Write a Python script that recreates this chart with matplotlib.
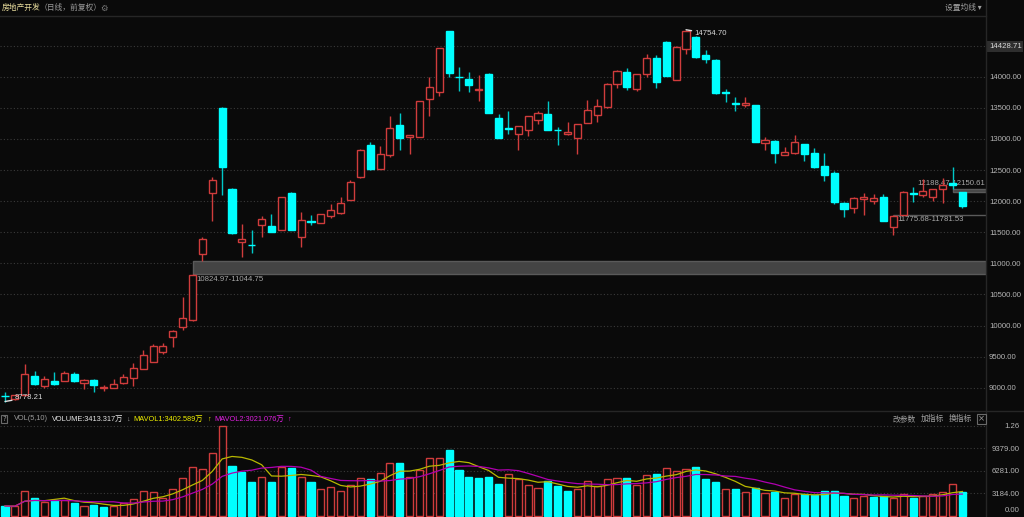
import numpy as np
import pandas as pd
import matplotlib
matplotlib.use('Agg')
import matplotlib.pyplot as plt
from matplotlib.patches import Rectangle
from matplotlib.lines import Line2D

plt.rcParams['font.family'] = ['Noto Sans CJK SC', 'DejaVu Sans']

title = '房地产开发'
subtitle = '（日线，前复权）'

opens = [8870, 8815, 8880, 9188, 9027, 9108, 9113, 9215, 9081, 9124,
         8995, 8995, 9071, 9161, 9301, 9418, 9579, 9810, 9971, 10088,
         11145, 12125, 13496, 12199, 11350, 11300, 11611, 11595, 11540, 12135,
         11423, 11680, 11643, 11765, 11804, 12018, 12383, 12898, 12521, 12746,
         13228, 13026, 13035, 13641, 13749, 14730, 14000, 13963, 13781, 14043,
         13331, 13170, 13083, 13138, 13308, 13395, 13150, 13074, 13019, 13260,
         13384, 13508, 13878, 14075, 13807, 14039, 14296, 14553, 13946, 14445,
         14643, 14344, 14274, 13755, 13580, 13545, 13545, 12929, 12966, 12741,
         12778, 12913, 12768, 12564, 12447, 11969, 11894, 12039, 12002, 12071,
         11579, 11781.53, 12125, 12093, 12071, 12189, 12290, 12150.61]
highs = [8924, 8890, 9376, 9263, 9188, 9258, 9268, 9252, 9140, 9145,
         9050, 9135, 9220, 9392, 9606, 9703, 9713, 9935, 10453, 10824.97,
         11420, 12383, 13510, 12210, 11632, 11535, 11760, 11797, 12065, 12140,
         11825, 11772, 11795, 11948, 12071, 12339, 12830, 12950, 12886, 13363,
         13412, 13065, 13615, 14000, 14465, 14740, 14156, 14070, 14021, 14060,
         13400, 13448, 13210, 13370, 13448, 13609, 13196, 13272, 13240, 13625,
         13641, 13895, 14106, 14145, 14050, 14365, 14350, 14570, 14490, 14754.70,
         14650, 14429, 14280, 13810, 13674, 13678, 13550, 13030, 12975, 12875,
         13063, 12920, 12859, 12773, 12480, 11980, 12065, 12135, 12120, 12120,
         11775.68, 12157, 12222, 12360, 12195, 12371, 12553, 12150.61]
lows = [8778.21, 8800, 8870, 9050, 8995, 9050, 9105, 9097, 8974, 8926,
        8950, 8990, 9065, 9027, 9295, 9410, 9542, 9649, 9930, 10080,
        11044.75, 11685, 12097, 11470, 11096, 11160, 11418, 11500, 11535, 11530,
        11267, 11611, 11640, 11733, 11800, 12010, 12375, 12505, 12515, 12704,
        12826, 12752, 13030, 13373, 13690, 14000, 13770, 13750, 13614, 13410,
        13010, 13079, 12826, 13050, 13240, 13140, 12907, 13070, 12762, 13255,
        13272, 13500, 13823, 13786, 13770, 13990, 13813, 14005, 13940, 14360,
        14300, 14215, 13725, 13600, 13453, 13517, 12945, 12822, 12617, 12735,
        12757, 12640, 12535, 12323, 11960, 11750, 11813, 11777, 11950, 11680,
        11450, 11781.53, 11981, 12071, 11995, 11975, 12188.47, 11890]
closes = [8860, 8880, 9220, 9055, 9135, 9055, 9241, 9113, 9124, 9039,
          9005, 9055, 9167, 9311, 9521, 9665, 9670, 9906, 10116, 10810,
          11386, 12334, 12553, 11482, 11385, 11290, 11707, 11508, 12061, 11540,
          11691, 11670, 11787, 11852, 11964, 12302, 12822, 12511, 12752, 13170,
          13019, 13057, 13605, 13830, 14457, 14055, 13990, 13862, 13807, 13416,
          13019, 13160, 13202, 13363, 13416, 13148, 13140, 13116, 13234, 13464,
          13524, 13883, 14092, 13839, 14043, 14296, 13920, 14016, 14482, 14740,
          14322, 14285, 13733, 13745, 13560, 13575, 12955, 12982, 12773, 12789,
          12955, 12762, 12543, 12415, 11981, 11878, 12055, 12066, 12050, 11685,
          11760, 12141, 12115, 12157, 12189, 12255, 12265, 11925]
# volume in 万
volumes = [1432, 1391, 3456, 2534, 2024, 2300, 2258, 1804, 1432, 1611,
           1336, 1391, 1804, 2437, 3456, 3360, 2492, 3814, 5246, 6761,
           6486, 8689, 12407, 6940, 6155, 4696, 5384, 4696, 6761, 6665,
           5384, 4696, 3732, 4048, 3498, 4324, 5288, 5109, 5935, 7395,
           7395, 5384, 6348, 8042, 8000, 9102, 6389, 5467, 5288, 5384,
           4420, 5797, 5150, 4282, 3869, 4833, 4186, 3498, 3732, 4833,
           4145, 5191, 5288, 5288, 4282, 5742, 5838, 6623, 6252, 6527,
           6761, 5109, 4696, 3814, 3732, 3319, 3869, 3222, 3319, 2492,
           3043, 3043, 2947, 3498, 3498, 2850, 2492, 2850, 2671, 2850,
           2492, 3043, 2575, 2809, 3126, 3360, 4450, 3413.317]

price_ticks = [9000, 9500, 10000, 10500, 11000, 11500, 12000, 12500, 13000, 13500, 14000, 14500]
price_labels = ['9000.00', '9500.00', '10000.00', '10500.00', '11000.00', '11500.00',
                '12000.00', '12500.00', '13000.00', '13500.00', '14000.00', '14428.71']
vol_ticks = [3184, 6281, 9379, 12476]
vol_labels = ['3184.00', '6281.00', '9379.00', '1.26']

vol_header = [('VOL(5,10)', '#9a9a9a'), ('VOLUME:3413.317万', '#e6e6e6'), ('↓', '#9a9a9a'),
              ('MAVOL1:3402.589万', '#f0f000'), ('↑', '#f0f000'),
              ('MAVOL2:3021.076万', '#e020e0'), ('↑', '#e020e0')]
vol_buttons = ['改参数', '加指标', '换指标']

BG = '#0a0a0a'
UP = '#d03c3c'
DN = '#00ffff'
GRID = '#3a3a3a'
TXT = '#b4b4b4'
NUM = ['Liberation Sans', 'DejaVu Sans']
NFS = 5.6
W, H = 1024, 517


def fx(px):
    return px / W


def fy(py):
    return 1 - py / H


o = np.array(opens); h = np.array(highs); l = np.array(lows); c = np.array(closes)
v = np.array(volumes)
n = len(o)
x = np.arange(n)

fig = plt.figure(figsize=(W / 100, H / 100), dpi=100, facecolor=BG)
ax = fig.add_axes([0, fy(410), fx(986), (410 - 17) / H])
axv = fig.add_axes([0, 0, fx(986), (517 - 412) / H])
for a in (ax, axv):
    a.set_facecolor(BG)
    for s in a.spines.values():
        s.set_visible(False)
    a.tick_params(length=0, labelbottom=False, labelleft=False, labelright=True)
    a.set_xticks([])
    a.set_xlim(-0.507, 99.39)

# price panel
ax.set_ylim(8641.6, 14959.8)
ax.set_yticks(price_ticks)
ax.set_yticklabels(price_labels, family=NUM, fontsize=NFS, color=TXT)
ax.tick_params(axis='y', pad=2.2)
ax.grid(axis='y', color=GRID, lw=0.8, linestyle=(0, (1, 2)))
ax.set_axisbelow(True)
top_lab = ax.get_yticklabels()[-1]
top_lab.set_bbox(dict(facecolor='#2e2e2e', edgecolor='none', pad=1.2))
top_lab.set_color('#d8d8d8')

# unfilled gaps
for i in range(n - 1):
    rest_l = l[i + 2:]
    rest_h = h[i + 2:]
    if l[i + 1] > h[i] and (len(rest_l) == 0 or rest_l.min() > h[i]):
        lo, hi, lab, above = h[i], l[i + 1], f'{h[i]:.2f}-{l[i + 1]:.2f}', False
    elif h[i + 1] < l[i] and (len(rest_h) == 0 or rest_h.max() < l[i]):
        lo, hi, lab, above = h[i + 1], l[i], f'{l[i]:.2f}-{h[i + 1]:.2f}', True
    else:
        continue
    ax.add_patch(Rectangle((i, lo), 99.39 - i, hi - lo, facecolor='#444444',
                           edgecolor='#5a5a5a', lw=1, zorder=1))
    if above:
        ax.annotate(lab, (99.39, hi), xytext=(-1, 1.5), textcoords='offset points',
                    ha='right', va='bottom', family=NUM, fontsize=NFS, color='#a8a8a8', zorder=2)
    else:
        ax.annotate(lab, (i, lo), xytext=(3, -1), textcoords='offset points',
                    ha='left', va='top', family=NUM, fontsize=NFS, color='#a8a8a8', zorder=2)

# candles
for i in range(n):
    up = c[i] >= o[i]
    col = UP if up else DN
    ax.vlines(i, l[i], h[i], color=col if up else '#00c8c8', lw=1, zorder=3)
    ax.add_patch(Rectangle((i - 0.36, min(o[i], c[i])), 0.72, abs(c[i] - o[i]),
                           facecolor=BG if up else DN, edgecolor=col, lw=1, zorder=4))

# extreme labels
imax = int(np.argmax(h))
imin = int(np.argmin(l))
ax.annotate(f'{h[imax]:.2f}', (imax, h[imax]), xytext=(6, -3), textcoords='offset points',
            ha='left', va='center', family=NUM, fontsize=NFS, color='#d8d8d8', zorder=6,
            arrowprops=dict(arrowstyle='-', color='#e0e0e0', lw=1, shrinkA=0, shrinkB=0))
ax.annotate(f'{l[imin]:.2f}', (imin, l[imin]), xytext=(7, 3), textcoords='offset points',
            ha='left', va='center', family=NUM, fontsize=NFS, color='#d8d8d8', zorder=6,
            arrowprops=dict(arrowstyle='-', color='#e0e0e0', lw=1, shrinkA=0, shrinkB=0))

# volume panel
axv.set_ylim(-79, 14379)
axv.set_yticks(vol_ticks)
axv.set_yticklabels(vol_labels, family=NUM, fontsize=NFS, color=TXT, ha='right')
axv.tick_params(axis='y', pad=24)
axv.grid(axis='y', color=GRID, lw=0.8, linestyle=(0, (1, 2)))
axv.set_axisbelow(True)
prev = np.r_[o[0], c[:-1]]
vup = c >= prev
axv.bar(x, v, width=0.72, color=[BG if u else DN for u in vup],
        edgecolor=[UP if u else DN for u in vup], lw=1, zorder=3)
ma5 = pd.Series(v).rolling(5, min_periods=1).mean()
ma10 = pd.Series(v).rolling(10, min_periods=1).mean()
axv.plot(x, ma5, color='#b8b800', lw=0.9, zorder=4)
axv.plot(x, ma10, color='#b000b0', lw=0.9, zorder=4)
fig.text(fx(1020), fy(511), '0.00', family=NUM, fontsize=NFS, color=TXT, ha='right', va='center')

# frame lines
fig.add_artist(Line2D([0, fx(986)], [fy(15.5)] * 2, color='#262626', lw=1))
fig.add_artist(Line2D([0, 1], [fy(411)] * 2, color='#262626', lw=1))
fig.add_artist(Line2D([fx(986)] * 2, [0, 1], color='#262626', lw=1))

# header
fig.text(fx(2), fy(8), title, fontsize=5.6, color='#e8dc9c', va='center')
fig.text(fx(40), fy(8), subtitle, fontsize=5.6, color='#9a9a9a', va='center')
fig.text(fx(100), fy(8), '⚙', fontsize=6, color='#7a7a7a', va='center', family='DejaVu Sans')
fig.text(fx(945), fy(8), '设置均线 ▾', fontsize=5.6, color='#a0a0a0', va='center')

fig.text(fx(2.5), fy(419), '?', fontsize=5, color='#9a9a9a', va='center', family='DejaVu Sans',
         bbox=dict(facecolor='none', edgecolor='#6a6a6a', pad=0.8, lw=0.8))
renderer = fig.canvas.get_renderer()
px = 14
for t, col in vol_header:
    txt = fig.text(fx(px), fy(419), t, fontsize=5.3, color=col, va='center',
                   family=['Liberation Sans', 'Noto Sans CJK SC', 'DejaVu Sans'])
    px = txt.get_window_extent(renderer).x1 + 3.5
for k, t in enumerate(vol_buttons):
    fig.text(fx(893 + 28 * k), fy(419), t, fontsize=5.6, color='#a0a0a0', va='center')
fig.text(fx(978), fy(419), '×', fontsize=6, color='#9a9a9a', va='center', family='DejaVu Sans',
         bbox=dict(facecolor='none', edgecolor='#6a6a6a', pad=0.6, lw=0.8))

fig.savefig('out.png', dpi=100, facecolor=BG)
